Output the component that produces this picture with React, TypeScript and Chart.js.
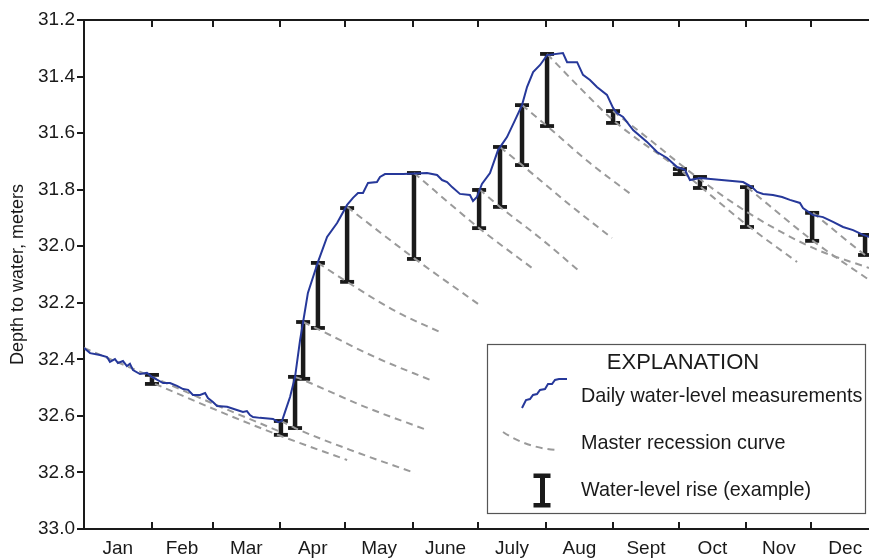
import React, { useEffect, useRef } from 'react';
import { Chart, registerables } from 'chart.js';

Chart.register(...registerables);

// ---- Data ----
const MONTHS = ['Jan', 'Feb', 'Mar', 'Apr', 'May', 'June', 'July', 'Aug', 'Sept', 'Oct', 'Nov', 'Dec'];
const MONTH_START_DAYS = [0, 31, 59, 90, 120, 151, 181, 212, 243, 273, 304, 334, 365];
const Y_MIN = 31.2;
const Y_MAX = 33.0;
const Y_STEP = 0.2;

// Daily water-level measurements (day of year, depth to water in meters)
const LEVEL_DAYS = [
  0, 2.8, 7.3, 10.6, 11.9, 14.2, 15.6, 17.9, 19.7, 21.1, 22.5, 25.7, 28.9, 31.2, 36.3, 39.5, 42.7, 45.5, 47.8, 50.0,
  53.3, 55.6, 56.9, 59.2, 61.1, 65.7, 70.2, 73.0, 74.8, 76.2, 77.6, 80.8, 86.8, 89.1, 90.9, 92.3, 94.6, 96.9, 99.2,
  100.6, 102.8, 107.4, 111.6, 116.2, 120.8, 123.5, 125.8, 128.1, 130.4, 134.5, 135.9, 138.2, 146.5, 157.5, 162.1,
  164.4, 166.7, 169.0, 172.6, 177.2, 178.6, 180.4, 182.7, 186.4, 190.1, 194.2, 197.9, 201.1, 203.4, 206.2, 209.4,
  212.6, 219.9, 221.8, 226.4, 229.1, 232.3, 235.5, 240.1, 242.9, 244.7, 247.5, 252.1, 258.5, 263.1, 267.7, 272.3,
  275.9, 278.2, 282.8, 302.6, 306.7, 309.0, 311.8, 316.3, 320.5, 324.1, 328.7, 330.1, 334.7, 339.3, 343.9, 348.5,
  353.1, 357.7, 360.4, 365,
];
const LEVEL_VALUES = [
  32.36, 32.378, 32.385, 32.392, 32.409, 32.399, 32.413, 32.406, 32.424, 32.416, 32.438, 32.452, 32.448, 32.462,
  32.484, 32.484, 32.494, 32.505, 32.508, 32.526, 32.526, 32.519, 32.537, 32.551, 32.565, 32.568, 32.579, 32.586,
  32.583, 32.597, 32.604, 32.607, 32.611, 32.622, 32.618, 32.586, 32.533, 32.462, 32.332, 32.268, 32.165, 32.056,
  31.967, 31.918, 31.854, 31.829, 31.812, 31.812, 31.776, 31.773, 31.755, 31.745, 31.745, 31.741, 31.748, 31.766,
  31.773, 31.791, 31.815, 31.819, 31.84, 31.826, 31.78, 31.741, 31.66, 31.614, 31.554, 31.501, 31.437, 31.384,
  31.359, 31.324, 31.317, 31.349, 31.349, 31.394, 31.412, 31.437, 31.465, 31.511, 31.529, 31.543, 31.589, 31.631,
  31.667, 31.688, 31.72, 31.73, 31.766, 31.759, 31.773, 31.791, 31.808, 31.815, 31.819, 31.826, 31.836, 31.847,
  31.865, 31.89, 31.897, 31.914, 31.932, 31.943, 31.96, 31.967, 31.975,
];

// Water-level rises: day, top (measured level), bottom (extrapolated recession)
const RISE_DAYS = [31.2, 90.4, 96.9, 100.6, 107.4, 120.8, 151.5, 181.4, 191.0, 201.1, 212.6, 242.9, 273.6, 282.8, 304.4, 334.3, 358.6];
const RISE_TOPS = [32.455, 32.618, 32.462, 32.268, 32.059, 31.865, 31.741, 31.801, 31.649, 31.501, 31.32, 31.522, 31.727, 31.755, 31.791, 31.882, 31.96];
const RISE_BOTTOMS = [32.487, 32.667, 32.643, 32.469, 32.289, 32.126, 32.045, 31.936, 31.861, 31.713, 31.575, 31.564, 31.745, 31.794, 31.932, 31.981, 32.031];

// Master recession curves: [day, depth]
const R1 = [[0, 32.36], [31.2, 32.462], [60.6, 32.561], [90.4, 32.657]];
const R2 = [[32.6, 32.487], [60.6, 32.579], [90.4, 32.671], [120.8, 32.756]];
const R3 = [[90.4, 32.618], [96.9, 32.643], [122.1, 32.72], [152.0, 32.802]];
const R4 = [[96.9, 32.462], [100.6, 32.473], [129.0, 32.568], [157.5, 32.65]];
const R5 = [[100.6, 32.268], [107.4, 32.293], [133.6, 32.392], [160.2, 32.477]];
const R6 = [[107.4, 32.059], [120.8, 32.126], [142.8, 32.229], [164.4, 32.307]];
const R7 = [[120.8, 31.861], [151.5, 32.042], [180.9, 32.204]];
const R8 = [[151.5, 31.741], [181.4, 31.936], [205.7, 32.077]];
const R9 = [[181.4, 31.798], [191.0, 31.861], [209.4, 31.971], [226.8, 32.084]];
const R10 = [[191.0, 31.649], [201.1, 31.713], [223.1, 31.854], [242.4, 31.971]];
const R11 = [[201.1, 31.501], [212.6, 31.575], [232.3, 31.706], [251.6, 31.819]];
const R12 = [[212.6, 31.32], [227.7, 31.44], [242.9, 31.554], [273.6, 31.73], [304.4, 31.925], [327.4, 32.056]];
const R13 = [[242.9, 31.522], [259.9, 31.624], [278.2, 31.737], [304.4, 31.879], [334.7, 32.006], [360.4, 32.077]];
const R14 = [[304.4, 31.791], [334.7, 31.981], [360.4, 32.119]];
const R15 = [[334.7, 31.882], [358.6, 32.031], [365, 32.066]];
const RECESSIONS = [R1, R2, R3, R4, R5, R6, R7, R8, R9, R10, R11, R12, R13, R14, R15];

const LEGEND_TITLE = 'EXPLANATION';
const LEGEND_LABELS = ['Daily water-level measurements', 'Master recession curve', 'Water-level rise (example)'];
const Y_TITLE = 'Depth to water, meters';

// ---- Styles ----
const FONT = '"Liberation Sans", Arial, Helvetica, sans-serif';
const INK = '#1a1a1a';
const BLUE = '#26389a';
const GRAY = '#9a9a9a';

export default function App() {
  const ref = useRef<HTMLCanvasElement>(null);

  useEffect(() => {
    const canvas = ref.current;
    if (!canvas) return;

    const monthMids = MONTHS.map((_, i) => (MONTH_START_DAYS[i] + MONTH_START_DAYS[i + 1]) / 2);
    const yTicks: number[] = [];
    for (let v = Y_MIN; v <= Y_MAX + 1e-9; v += Y_STEP) yTicks.push(Math.round(v * 10) / 10);

    const risePlugin = {
      id: 'rises',
      beforeDatasetsDraw(chart: any) {
        const { ctx, scales } = chart;
        const x = scales.x;
        const y = scales.y;
        ctx.save();
        ctx.fillStyle = INK;
        RISE_DAYS.forEach((d, i) => {
          const px = x.getPixelForValue(d);
          const t = y.getPixelForValue(RISE_TOPS[i]);
          const b = y.getPixelForValue(RISE_BOTTOMS[i]);
          ctx.fillRect(px - 2.25, t, 4.5, b - t);
          ctx.fillRect(px - 7, t - 1.9, 14, 3.8);
          ctx.fillRect(px - 7, b - 1.9, 14, 3.8);
        });
        ctx.restore();
      },
    };

    const framePlugin = {
      id: 'frame',
      afterDraw(chart: any) {
        const { ctx, chartArea: a, scales } = chart;
        const x = scales.x;
        ctx.save();
        ctx.strokeStyle = INK;
        ctx.lineWidth = 2;
        ctx.beginPath();
        ctx.moveTo(a.left - 1, a.top);
        ctx.lineTo(a.right + 2, a.top);
        for (const d of MONTH_START_DAYS.slice(1, -1)) {
          const px = Math.round(x.getPixelForValue(d));
          ctx.moveTo(px, a.bottom);
          ctx.lineTo(px, a.bottom - 7);
          ctx.moveTo(px, a.top);
          ctx.lineTo(px, a.top + 7);
        }
        ctx.stroke();

        // Legend box
        ctx.fillStyle = '#ffffff';
        ctx.fillRect(488, 345, 377, 168);
        ctx.strokeStyle = '#555555';
        ctx.lineWidth = 1.2;
        ctx.strokeRect(487.5, 344.5, 378, 169);

        ctx.fillStyle = INK;
        ctx.textBaseline = 'alphabetic';
        ctx.textAlign = 'center';
        ctx.font = `22px ${FONT}`;
        ctx.fillText(LEGEND_TITLE, 683, 369);
        ctx.textAlign = 'left';
        ctx.font = `19.8px ${FONT}`;
        ctx.fillText(LEGEND_LABELS[0], 581, 402);
        ctx.fillText(LEGEND_LABELS[1], 581, 449);
        ctx.fillText(LEGEND_LABELS[2], 581, 496);

        // blue sample
        ctx.strokeStyle = BLUE;
        ctx.lineWidth = 2;
        ctx.beginPath();
        const s = [[522, 408], [526, 400], [530, 399], [533, 395], [537, 394], [540, 390], [545, 389], [548, 384], [552, 384], [555, 380], [559, 379], [567, 379]];
        s.forEach(([px, py], i) => (i ? ctx.lineTo(px, py) : ctx.moveTo(px, py)));
        ctx.stroke();

        // dashed sample
        ctx.strokeStyle = GRAY;
        ctx.setLineDash([7, 5]);
        ctx.beginPath();
        ctx.moveTo(503, 432);
        ctx.quadraticCurveTo(527, 448, 557, 450);
        ctx.stroke();
        ctx.setLineDash([]);

        // I sample
        ctx.fillStyle = INK;
        ctx.fillRect(540, 476, 5, 29);
        ctx.fillRect(533.5, 473.5, 17, 4.5);
        ctx.fillRect(533.5, 503, 17, 4.5);
        ctx.restore();
      },
    };

    const chart = new Chart(canvas, {
      type: 'line',
      data: {
        datasets: [
          {
            label: 'Daily water-level measurements',
            data: LEVEL_DAYS.map((d, i) => ({ x: d, y: LEVEL_VALUES[i] })),
            borderColor: BLUE,
            borderWidth: 2,
            pointRadius: 0,
            tension: 0,
            fill: false,
            order: 0,
          },
          ...RECESSIONS.map((r, k) => ({
            label: 'Master recession curve ' + (k + 1),
            data: r.map(([d, v]) => ({ x: d, y: v })),
            borderColor: GRAY,
            borderWidth: 2,
            borderDash: [7, 5],
            pointRadius: 0,
            cubicInterpolationMode: 'monotone' as const,
            fill: false,
            order: 1,
          })),
        ],
      },
      options: {
        responsive: false,
        animation: false,
        events: [],
        layout: { padding: { top: 20, right: 1, left: 0, bottom: 0 } },
        plugins: { legend: { display: false }, tooltip: { enabled: false }, title: { display: false } },
        scales: {
          x: {
            type: 'linear',
            min: 0,
            max: 365,
            grid: { display: false, drawTicks: false },
            border: { display: true, color: INK, width: 2 },
            afterBuildTicks: (scale: any) => {
              scale.ticks = monthMids.map((v) => ({ value: v }));
            },
            afterFit: (scale: any) => {
              scale.height = 29;
            },
            ticks: {
              autoSkip: false,
              maxRotation: 0,
              padding: 8,
              color: INK,
              font: { family: FONT, size: 19 },
              callback: (_v: any, i: number) => MONTHS[i],
            },
          },
          y: {
            type: 'linear',
            reverse: true,
            min: Y_MIN,
            max: Y_MAX,
            afterBuildTicks: (scale: any) => {
              scale.ticks = yTicks.map((v) => ({ value: v }));
            },
            afterFit: (scale: any) => {
              scale.width = 84;
            },
            grid: { display: true, drawOnChartArea: false, drawTicks: true, tickLength: 7, color: INK, lineWidth: 2 },
            border: { display: true, color: INK, width: 2 },
            ticks: {
              padding: 2,
              color: INK,
              font: { family: FONT, size: 19 },
              callback: (v: any) => Number(v).toFixed(1),
            },
            title: {
              display: true,
              text: Y_TITLE,
              color: INK,
              font: { family: FONT, size: 18 },
              padding: { top: 7, bottom: 0 },
            },
          },
        },
      },
      plugins: [risePlugin, framePlugin],
    } as any);

    return () => chart.destroy();
  }, []);

  return (
    <div style={{ position: 'absolute', left: 0, top: 0, width: 869, height: 558, overflow: 'hidden', background: '#fff' }}>
      <canvas ref={ref} width={880} height={558} style={{ display: 'block' }} />
    </div>
  );
}
